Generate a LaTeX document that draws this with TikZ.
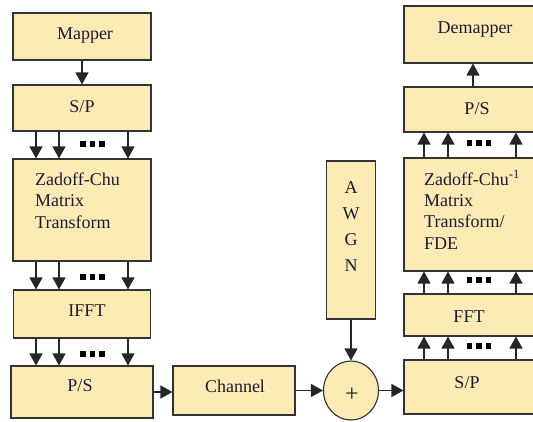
\documentclass[tikz,border=0pt]{standalone}
\usepackage{fontspec}
\setmainfont{Liberation Serif}
\newfontfamily\diagfont{Liberation Serif}
\usetikzlibrary{arrows.meta,shapes.geometric}
\definecolor{boxfill}{RGB}{252,234,180}
\definecolor{txtcol}{RGB}{28,28,48}
\newcommand\threedots[2]{%
  \foreach \dx in {-9.5,0,9.5}{\fill[black] ({#1+\dx-2.8},{#2-2.6}) rectangle ({#1+\dx+2.8},{#2+2.6});}}
\begin{document}
\begin{tikzpicture}[x=1pt,y=-1pt,
  blk/.style={draw=black!80,line width=1.1pt,fill=boxfill,inner sep=0pt},
  lbl/.style={font=\diagfont\fontsize{18}{21}\selectfont,text=txtcol,inner sep=0pt},
  arr/.style={draw=black!85,line width=1.2pt,-{Triangle[width=13pt,length=12pt]}}]
\useasboundingbox (0,0) rectangle (533,421);
\clip (0,0) rectangle (533,421);
% left column
\node[blk,minimum width=138pt,minimum height=47pt] (map) at (82,36.5) {};
\node[blk,minimum width=138pt,minimum height=46pt] (spl) at (82,108) {};
\node[blk,minimum width=138pt,minimum height=102pt] (zcl) at (82,210) {};
\node[blk,minimum width=137pt,minimum height=48pt] (ifft) at (82,314) {};
\node[blk,minimum width=142pt,minimum height=52pt] (psl) at (82,392) {};
\node[blk,minimum width=122pt,minimum height=49pt] (chan) at (234,390.5) {};
\node[blk,minimum width=49pt,minimum height=158pt] (awgn) at (351,240) {};
\node[blk,shape=ellipse,minimum width=55pt,minimum height=59pt] (circ) at (351,390.5) {};
% right column
\node[blk,minimum width=138pt,minimum height=57pt] (demap) at (473,34.5) {};
\node[blk,minimum width=138pt,minimum height=45pt] (psr) at (473,109.5) {};
\node[blk,minimum width=138pt,minimum height=113pt] (zcr) at (473,214.5) {};
\node[blk,minimum width=138pt,minimum height=42pt] (fft) at (473,315) {};
\node[blk,minimum width=138pt,minimum height=54pt] (spr) at (473,387) {};
% labels
\node[lbl,anchor=base] (tmap) at (85,39) {Mapper};
\node[lbl,anchor=base] (tspl) at (82,112) {S/P};
\node[lbl,anchor=base west] (tzcl1) at (35,185) {Zadoff-Chu};
\node[lbl,anchor=base west] (tzcl2) at (35,206.5) {Matrix};
\node[lbl,anchor=base west] (tzcl3) at (35,228) {Transform};
\node[lbl,anchor=base] (tifft) at (87,316) {IFFT};
\node[lbl,anchor=base] (tpsl) at (80,391) {P/S};
\node[lbl,anchor=base] (tchan) at (235,392) {Channel};
\node[lbl,anchor=base] (ta) at (351,193) {A};
\node[lbl,anchor=base] (tw) at (351,219) {W};
\node[lbl,anchor=base] (tg) at (351,245) {G};
\node[lbl,anchor=base] (tn) at (351,271) {N};
\node[lbl,font=\diagfont\fontsize{24}{24}\selectfont] (tplus) at (352,395) {+};
\node[lbl,anchor=base] (tdemap) at (475,33) {Demapper};
\node[lbl,anchor=base] (tpsr) at (477,114) {P/S};
\node[lbl,anchor=base west] (tzcr1) at (424,185) {Zadoff-Chu\textsuperscript{-1}};
\node[lbl,anchor=base west] (tzcr2) at (424,206) {Matrix};
\node[lbl,anchor=base west] (tzcr3) at (424,227.5) {Transform/};
\node[lbl,anchor=base west] (tzcr4) at (424,249) {FDE};
\node[lbl,anchor=base] (tfft) at (469,322) {FFT};
\node[lbl,anchor=base] (tspr) at (467,388) {S/P};
% connectors left
\draw[arr] (map) -- (spl);
\foreach \o in {-46,-23,46}{
  \draw[arr] ([xshift=\o pt]spl.south) -- ([xshift=\o pt]spl.south |- zcl.north);
  \draw[arr] ([xshift=\o pt]zcl.south) -- ([xshift=\o pt]zcl.south |- ifft.north);
  \draw[arr] ([xshift=\o pt]ifft.south) -- ([xshift=\o pt]ifft.south |- psl.north);
}
\threedots{92.5}{144}
\threedots{92.5}{277}
\threedots{92.5}{354}
% bottom chain
\draw[arr] (psl.east) -- (psl.east -| chan.west);
\draw[arr] (chan.east) -- (circ.west);
\draw[arr] (awgn.south) -- (circ.north);
\draw[arr] (circ.east) -- (circ.east -| spr.west);
% connectors right
\foreach \o in {-49,-25,43}{
  \draw[arr] ([xshift=\o pt]spr.north) -- ([xshift=\o pt]spr.north |- fft.south);
  \draw[arr] ([xshift=\o pt]fft.north) -- ([xshift=\o pt]fft.north |- zcr.south);
  \draw[arr] ([xshift=\o pt]zcr.north) -- ([xshift=\o pt]zcr.north |- psr.south);
}
\draw[arr] (psr) -- (demap);
\threedots{479}{143}
\threedots{479}{280}
\threedots{479}{346}
\end{tikzpicture}
\end{document}
